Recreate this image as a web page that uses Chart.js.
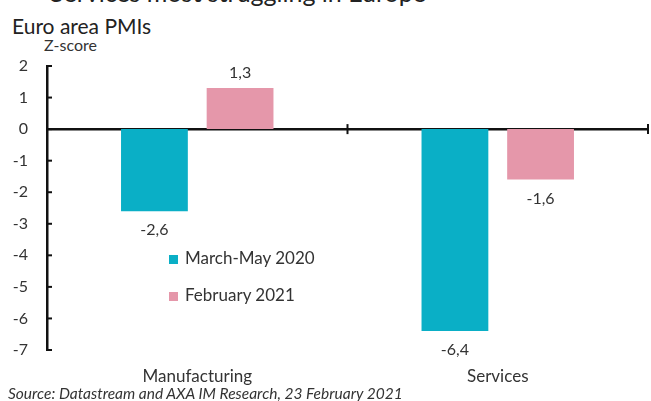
<!DOCTYPE html>
<html lang="en">
<head>
<meta charset="UTF-8">
<title>Euro area PMIs</title>
<script src="https://cdn.jsdelivr.net/npm/chart.js"></script>
<style>
    * { margin: 0; padding: 0; }
    body {
        width: 651px; height: 401px; overflow: hidden;
        background: #fff; position: relative;
        font-family: Lato, "Open Sans", Arial, sans-serif;
        color: #262626;
    }
    #wrap { position: absolute; left: 0; top: 0; width: 651px; height: 401px; }
    .cut { position: absolute; left: 50px; top: -23px; font-size: 25px; color: #222; white-space: nowrap; }
    .titulo { position: absolute; left: 12px; top: 13px; font-size: 21px; color: #222; }
    .unidade { position: absolute; left: 44px; top: 35px; font-size: 16px; color: #333; }
    .fonte { position: absolute; left: 8px; top: 384px; font-size: 15.5px; font-style: italic; color: #333; white-space: nowrap; }
    #legenda { position: absolute; left: 169px; top: 247px; font-size: 17px; color: #333; }
    #legenda div { height: 37px; line-height: 22px; white-space: nowrap; }
    #legenda span { display: inline-block; width: 9px; height: 9px; margin-right: 7px; }
</style>
</head>
<body>
<div class="cut">Services most struggling in Europe</div>
<div class="titulo">Euro area PMIs</div>
<div class="unidade">Z-score</div>
<div id="wrap"><canvas id="pmiChart" width="651" height="401"></canvas></div>
<div id="legenda"></div>
<div class="fonte">Source: Datastream and AXA IM Research, 23 February 2021</div>

<script>
// dados do grafico
const categorias = ['Manufacturing', 'Services'];
const nomesSeries = ['March-May 2020', 'February 2021'];
const marcoMaio2020 = [-2.6, -6.4];
const fevereiro2021 = [1.3, -1.6];
const yMin = -7;
const yMax = 2;

const cores = ['#0aafc6', '#e597aa'];
const fonte = 'Lato, "Open Sans", Arial, sans-serif';

// rotulos de valor com virgula decimal
const rotulosPlugin = {
    id: 'rotulos',
    afterDatasetsDraw(chart) {
        const ctx = chart.ctx;
        ctx.save();
        ctx.font = '16px ' + fonte;
        ctx.fillStyle = '#333';
        ctx.textAlign = 'center';
        ctx.textBaseline = 'middle';
        chart.data.datasets.forEach((ds, i) => {
            chart.getDatasetMeta(i).data.forEach((bar, j) => {
                const v = ds.data[j];
                const txt = v.toFixed(1).replace('.', ',');
                const y = v >= 0 ? bar.y - 15 : bar.y + 19;
                ctx.fillText(txt, bar.x, y);
            });
        });
        ctx.restore();
    }
};

// marcas dos eixos (para dentro no eixo y, cruzando no eixo x)
const marcasPlugin = {
    id: 'marcas',
    afterDraw(chart) {
        const ctx = chart.ctx;
        const area = chart.chartArea;
        const ys = chart.scales.y;
        const xs = chart.scales.x;
        ctx.save();
        ctx.strokeStyle = '#111';
        ctx.lineWidth = 2;
        ys.ticks.forEach(t => {
            const py = ys.getPixelForValue(t.value);
            ctx.beginPath();
            ctx.moveTo(area.left, py);
            ctx.lineTo(area.left + 5, py);
            ctx.stroke();
        });
        const y0 = ys.getPixelForValue(0);
        for (let i = 1; i <= categorias.length; i++) {
            const px = xs.getPixelForValue(i - 0.5);
            ctx.beginPath();
            ctx.moveTo(px, y0 - 5);
            ctx.lineTo(px, y0 + 5);
            ctx.stroke();
        }
        ctx.restore();
    }
};

let ctx = document.getElementById('pmiChart').getContext('2d');
let pmiChart = new Chart(ctx, {
    type: 'bar',
    data: {
        labels: categorias,
        datasets: [{
            label: nomesSeries[0],
            data: marcoMaio2020,
            backgroundColor: cores[0]
        }, {
            label: nomesSeries[1],
            data: fevereiro2021,
            backgroundColor: cores[1]
        }]
    },
    options: {
        responsive: false,
        animation: false,
        categoryPercentage: 0.57,
        barPercentage: 0.78,
        layout: { padding: { top: 66, right: 3, left: 0, bottom: 0 } },
        plugins: {
            legend: { display: false },
            tooltip: { enabled: false }
        },
        scales: {
            x: {
                position: { y: 0 },
                offset: true,
                grid: { display: false },
                border: { color: '#111', width: 2.5 },
                ticks: { display: false }
            },
            x2: {
                type: 'category',
                labels: categorias,
                position: 'bottom',
                offset: true,
                grid: { display: false },
                border: { display: false },
                ticks: {
                    padding: 8,
                    color: '#333',
                    font: { family: fonte, size: 17 }
                },
                afterFit: s => { s.height = 51; }
            },
            y: {
                min: yMin,
                max: yMax,
                ticks: {
                    stepSize: 1,
                    padding: 19,
                    color: '#333',
                    font: { family: fonte, size: 16 }
                },
                grid: { display: false, drawTicks: false },
                border: { color: '#111', width: 2.5 },
                afterFit: s => { s.width = 47; }
            }
        }
    },
    plugins: [rotulosPlugin, marcasPlugin]
});

// legenda a partir dos datasets
document.getElementById('legenda').innerHTML = pmiChart.data.datasets
    .map(ds => `<div><span style="background:${ds.backgroundColor}"></span>${ds.label}</div>`)
    .join('');
</script>
</body>
</html>
